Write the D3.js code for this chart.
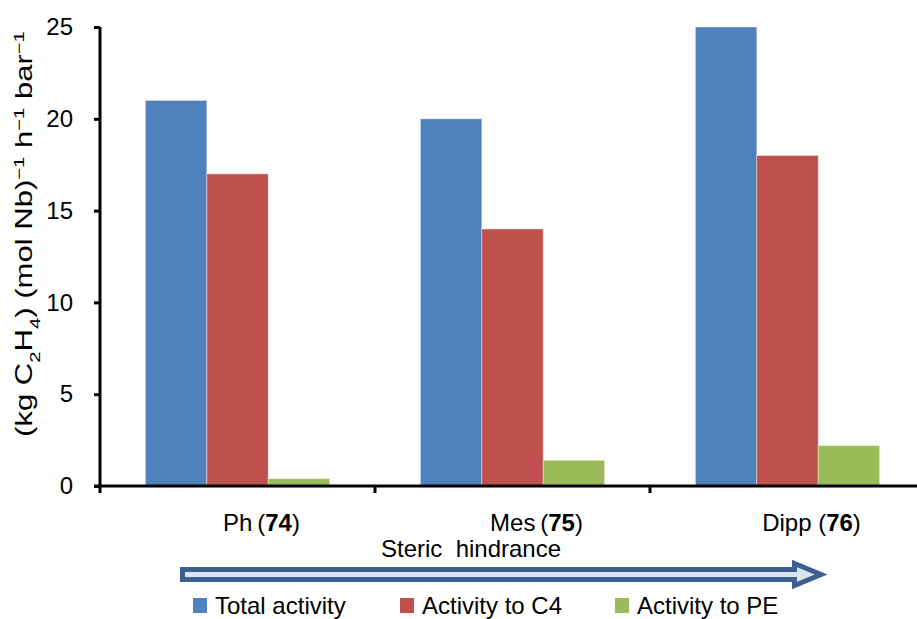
<!DOCTYPE html>
<html>
<head>
<meta charset="UTF-8">
<title></title>
<style>
  body { margin: 0; background: #fff; }
  text { font-family: "Liberation Sans", Arial, sans-serif; fill: #000; }
</style>
</head>
<body>
<script src="https://d3js.org/d3.v7.min.js"></script>
<script>
var width = 917;
var height = 619;

var categories = ["Ph", "Mes", "Dipp"];
var compounds = ["74", "75", "76"];
var seriesNames = ["Total activity", "Activity to C4", "Activity to PE"];
var totalActivity = [21, 20, 25];
var activityC4 = [17, 14, 18];
var activityPE = [0.4, 1.4, 2.2];
var yTicks = [0, 5, 10, 15, 20, 25];
var colors = ["#4f81bd", "#c0504d", "#9bbb59"];

var seriesValues = [totalActivity, activityC4, activityPE];

var svg = d3.select("body").append("svg")
  .attr("width", width)
  .attr("height", height);

var x0 = 100, x1 = 925, y0 = 486, y1 = 27;

var x = d3.scaleBand()
  .domain(categories)
  .range([x0, x1])
  .paddingInner(0.33)
  .paddingOuter(0.165);

var xSub = d3.scaleBand()
  .domain(d3.range(seriesNames.length))
  .range([0, x.bandwidth()]);

var y = d3.scaleLinear()
  .domain([0, 25])
  .range([y0, y1]);

// bars
var groups = svg.selectAll(".grp")
  .data(categories)
  .enter().append("g")
  .attr("transform", function(d) { return "translate(" + x(d) + ",0)"; });

groups.selectAll("rect")
  .data(function(d, i) {
    return seriesValues.map(function(s, j) { return { s: j, v: s[i] }; });
  })
  .enter().append("rect")
  .attr("x", function(d) { return xSub(d.s); })
  .attr("width", xSub.bandwidth())
  .attr("y", function(d) { return y(d.v); })
  .attr("height", function(d) { return y0 - y(d.v); })
  .attr("fill", function(d) { return colors[d.s]; })
  .attr("stroke", "#fff")
  .attr("stroke-opacity", 0.4)
  .attr("stroke-width", 1);

// y axis
var yAxis = d3.axisLeft(y)
  .tickValues(yTicks)
  .tickSize(6)
  .tickPadding(21);
var gy = svg.append("g")
  .attr("transform", "translate(" + x0 + ",0)")
  .call(yAxis);
gy.select(".domain").attr("stroke", "#000").attr("stroke-width", 3)
  .attr("d", "M0," + y1 + "V" + (y0 + 1));
gy.selectAll(".tick line").attr("stroke", "#000").attr("stroke-width", 3);
gy.selectAll(".tick text")
  .style("font-family", "Liberation Sans, Arial, sans-serif")
  .style("font-size", "24px");

// x axis line with category boundary ticks
var boundaries = [x0, x0 + (x1 - x0) / 3, x0 + 2 * (x1 - x0) / 3, x1];
svg.append("line")
  .attr("x1", x0 - 6).attr("x2", width)
  .attr("y1", y0).attr("y2", y0)
  .attr("stroke", "#000").attr("stroke-width", 3);
svg.selectAll(".xtick")
  .data(boundaries)
  .enter().append("line")
  .attr("x1", function(d) { return d; })
  .attr("x2", function(d) { return d; })
  .attr("y1", y0).attr("y2", y0 + 7)
  .attr("stroke", "#000").attr("stroke-width", 3);

// category labels
var labelGap = ["\u2009(", "\u2009(", " ("];
var labels = svg.selectAll(".clab")
  .data(categories)
  .enter().append("text")
  .attr("x", function(d) { return x(d) + x.bandwidth() / 2 + 24; })
  .attr("y", 531)
  .attr("text-anchor", "middle")
  .style("font-size", "24px");
labels.append("tspan").text(function(d, i) { return d + labelGap[i]; });
labels.append("tspan").attr("font-weight", "bold").text(function(d, i) { return compounds[i]; });
labels.append("tspan").text(")");

// y axis title, stretched to the length it has in the original
var yt = svg.append("text")
  .attr("text-anchor", "middle")
  .style("font-size", "23px");
yt.append("tspan").text("(kg C");
yt.append("tspan").attr("baseline-shift", "sub").style("font-size", "15px").text("2");
yt.append("tspan").text("H");
yt.append("tspan").attr("baseline-shift", "sub").style("font-size", "15px").text("4");
yt.append("tspan").text(") (mol Nb)");
yt.append("tspan").attr("baseline-shift", "super").style("font-size", "15px").text("\u22121");
yt.append("tspan").text(" h");
yt.append("tspan").attr("baseline-shift", "super").style("font-size", "15px").text("\u22121");
yt.append("tspan").text(" bar");
yt.append("tspan").attr("baseline-shift", "super").style("font-size", "15px").text("\u22121");
var titleLen = yt.node().getBBox().width;
var stretch = 406 / titleLen;
yt.attr("transform", "translate(32,234) rotate(-90) scale(" + stretch + ",1)");

// steric hindrance arrow
svg.append("text")
  .attr("x", 471).attr("y", 557)
  .attr("text-anchor", "middle")
  .style("font-size", "24px")
  .style("white-space", "pre")
  .text("Steric  hindrance");

var ay = 574.5;
svg.append("path")
  .attr("d", "M182.5," + (ay - 5) + "H794.5V" + (ay - 11) + "L821," + ay +
             "L794.5," + (ay + 11) + "V" + (ay + 5) + "H182.5Z")
  .attr("fill", "#dbe5f1")
  .attr("stroke", "#3c6190")
  .attr("stroke-width", 5)
  .attr("stroke-linejoin", "miter");

// legend
var legendX = [193, 400, 615];
var lg = svg.selectAll(".leg")
  .data(seriesNames)
  .enter().append("g")
  .attr("transform", function(d, i) { return "translate(" + legendX[i] + ",598)"; });
lg.append("rect")
  .attr("width", 14).attr("height", 15)
  .attr("fill", function(d, i) { return colors[i]; });
lg.append("text")
  .attr("x", 22).attr("y", 16)
  .style("font-size", "24px")
  .text(function(d) { return d; });
</script>
</body>
</html>
